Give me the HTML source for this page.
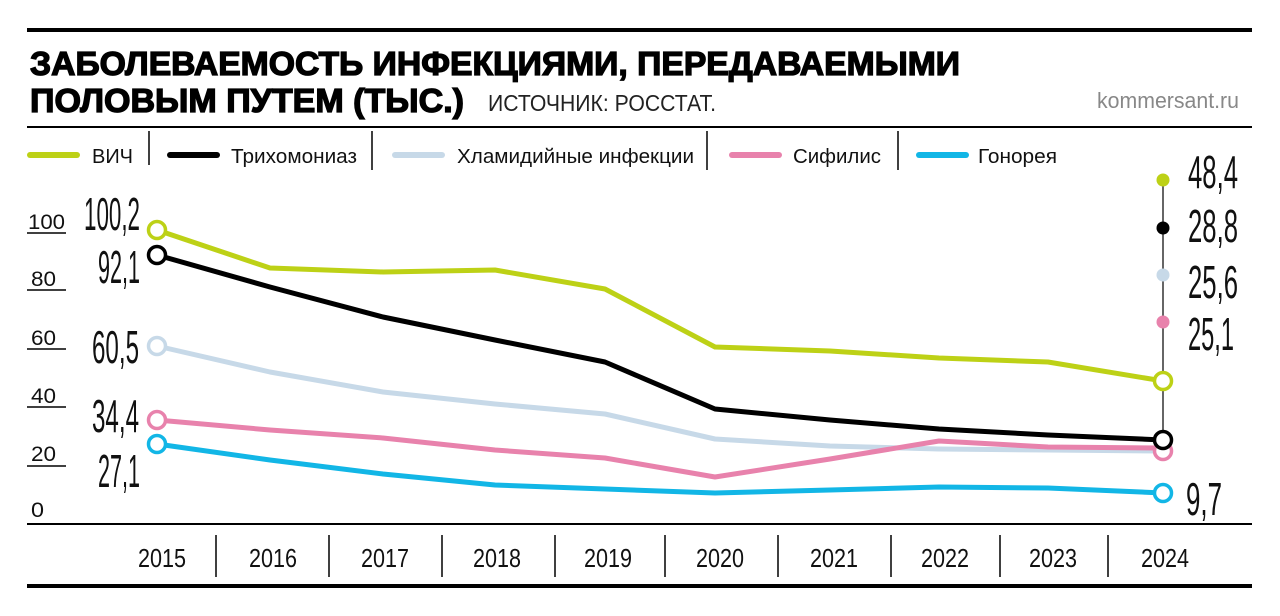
<!DOCTYPE html>
<html><head><meta charset="utf-8"><style>
html,body{margin:0;padding:0;background:#fff;}
svg{display:block;font-family:"Liberation Sans","DejaVu Sans",sans-serif;}
</style></head><body>
<svg width="1280" height="616" viewBox="0 0 1280 616" xmlns="http://www.w3.org/2000/svg">
<rect width="1280" height="616" fill="#fff"/>
<line x1="27" y1="30" x2="1252" y2="30" stroke="#000" stroke-width="4"/>
<text x="30" y="75" font-size="33" font-weight="bold" stroke="#000" stroke-width="1.3" textLength="930" lengthAdjust="spacingAndGlyphs">ЗАБОЛЕВАЕМОСТЬ ИНФЕКЦИЯМИ, ПЕРЕДАВАЕМЫМИ</text>
<text x="30" y="112" font-size="33" font-weight="bold" stroke="#000" stroke-width="1.3" textLength="434" lengthAdjust="spacingAndGlyphs">ПОЛОВЫМ ПУТЕМ (ТЫС.)</text>
<text x="488" y="111" font-size="23" textLength="228" lengthAdjust="spacingAndGlyphs" fill="#222">ИСТОЧНИК: РОССТАТ.</text>
<text x="1097" y="108" font-size="22" textLength="142" lengthAdjust="spacingAndGlyphs" fill="#888">kommersant.ru</text>
<line x1="27" y1="127" x2="1252" y2="127" stroke="#000" stroke-width="2"/>
<g stroke-width="6" stroke-linecap="round">
<line x1="30" y1="155" x2="77" y2="155" stroke="#bdd116"/>
<line x1="170" y1="155" x2="217" y2="155" stroke="#000"/>
<line x1="395" y1="155" x2="442" y2="155" stroke="#c7d9e8"/>
<line x1="732" y1="155" x2="779" y2="155" stroke="#e882ac"/>
<line x1="919" y1="155" x2="966" y2="155" stroke="#12b6e6"/>
</g>
<g stroke="#000" stroke-width="1.5">
<line x1="149" y1="131" x2="149" y2="165"/><line x1="372" y1="131" x2="372" y2="170"/>
<line x1="707" y1="131" x2="707" y2="170"/><line x1="898" y1="131" x2="898" y2="170"/>
</g>
<g font-size="20" fill="#111">
<text x="92" y="163" textLength="41" lengthAdjust="spacingAndGlyphs">ВИЧ</text>
<text x="231" y="163" textLength="126" lengthAdjust="spacingAndGlyphs">Трихомониаз</text>
<text x="457" y="163" textLength="237" lengthAdjust="spacingAndGlyphs">Хламидийные инфекции</text>
<text x="793" y="163" textLength="88" lengthAdjust="spacingAndGlyphs">Сифилис</text>
<text x="978" y="163" textLength="79" lengthAdjust="spacingAndGlyphs">Гонорея</text>
</g>
<g font-size="21" fill="#111">
<text x="28" y="229" textLength="37" lengthAdjust="spacingAndGlyphs">100</text>
<text x="31" y="286" textLength="25" lengthAdjust="spacingAndGlyphs">80</text>
<text x="31" y="345" textLength="25" lengthAdjust="spacingAndGlyphs">60</text>
<text x="31" y="403" textLength="25" lengthAdjust="spacingAndGlyphs">40</text>
<text x="31" y="461" textLength="25" lengthAdjust="spacingAndGlyphs">20</text>
<text x="31" y="517" textLength="13" lengthAdjust="spacingAndGlyphs">0</text>
</g>
<g stroke="#000" stroke-width="1.5">
<line x1="27" y1="233" x2="66" y2="233"/><line x1="27" y1="290" x2="66" y2="290"/>
<line x1="27" y1="349" x2="66" y2="349"/><line x1="27" y1="407" x2="66" y2="407"/>
<line x1="27" y1="466" x2="66" y2="466"/>
</g>
<g font-size="46" fill="#111">
<text x="84" y="230" textLength="56" lengthAdjust="spacingAndGlyphs">100,2</text>
<text x="98" y="283" textLength="42" lengthAdjust="spacingAndGlyphs">92,1</text>
<text x="92" y="363" textLength="47" lengthAdjust="spacingAndGlyphs">60,5</text>
<text x="92" y="432" textLength="47" lengthAdjust="spacingAndGlyphs">34,4</text>
<text x="98" y="487" textLength="42" lengthAdjust="spacingAndGlyphs">27,1</text>
</g>
<line x1="1163" y1="180" x2="1163" y2="440" stroke="#333" stroke-width="1.5"/>
<circle cx="1163" cy="180" r="6.5" fill="#bdd116"/>
<circle cx="1163" cy="228" r="6.5" fill="#000"/>
<circle cx="1163" cy="275" r="6.5" fill="#c7d9e8"/>
<circle cx="1163" cy="322" r="6.5" fill="#e882ac"/>
<g font-size="46" fill="#111">
<text x="1188" y="188" textLength="50" lengthAdjust="spacingAndGlyphs">48,4</text>
<text x="1188" y="242" textLength="50" lengthAdjust="spacingAndGlyphs">28,8</text>
<text x="1188" y="298" textLength="50" lengthAdjust="spacingAndGlyphs">25,6</text>
<text x="1188" y="350" textLength="46" lengthAdjust="spacingAndGlyphs">25,1</text>
<text x="1186" y="515" textLength="36" lengthAdjust="spacingAndGlyphs">9,7</text>
</g>
<g fill="none" stroke-width="5" stroke-linejoin="round">
<polyline stroke="#c7d9e8" points="157,346 270,372 383,392 495,404 605,414 715,439 830,446 939,449 1048,450 1163,451"/>
<polyline stroke="#e882ac" points="157,420 270,430 383,438 495,450 605,458 715,477 830,459 939,441 1048,447 1163,448"/>
<polyline stroke="#12b6e6" points="157,444 270,460 383,474 495,485 605,489 715,493 830,490 939,487 1048,488 1163,493"/>
<polyline stroke="#000" points="157,255 270,287 383,317 495,340 605,362 715,409 830,420 939,429 1048,435 1163,440"/>
<polyline stroke="#bdd116" points="157,230 270,268 383,272 495,270 605,289 715,347 830,351 939,358 1048,362 1163,381"/>
</g>
<g fill="#fff" stroke-width="3.5">
<circle cx="157" cy="346" r="8.5" stroke="#c7d9e8"/>
<circle cx="157" cy="420" r="8.5" stroke="#e882ac"/>
<circle cx="157" cy="444" r="8.5" stroke="#12b6e6"/>
<circle cx="157" cy="255" r="8.5" stroke="#000"/>
<circle cx="157" cy="230" r="8.5" stroke="#bdd116"/>
<circle cx="1163" cy="451" r="8.5" stroke="#e882ac"/>
<circle cx="1163" cy="493" r="8.5" stroke="#12b6e6"/>
<circle cx="1163" cy="440" r="8.5" stroke="#000"/>
<circle cx="1163" cy="381" r="8.5" stroke="#bdd116"/>
</g>
<line x1="27" y1="524" x2="1252" y2="524" stroke="#000" stroke-width="2"/>
<g stroke="#000" stroke-width="1.5">
<line x1="216" y1="535" x2="216" y2="577"/><line x1="329" y1="535" x2="329" y2="577"/>
<line x1="442" y1="535" x2="442" y2="577"/><line x1="555" y1="535" x2="555" y2="577"/>
<line x1="665" y1="535" x2="665" y2="577"/><line x1="778" y1="535" x2="778" y2="577"/>
<line x1="891" y1="535" x2="891" y2="577"/><line x1="1000" y1="535" x2="1000" y2="577"/>
<line x1="1108" y1="535" x2="1108" y2="577"/>
</g>
<g font-size="26" fill="#111" text-anchor="middle">
<text x="162" y="567" textLength="48" lengthAdjust="spacingAndGlyphs">2015</text>
<text x="273" y="567" textLength="48" lengthAdjust="spacingAndGlyphs">2016</text>
<text x="385" y="567" textLength="48" lengthAdjust="spacingAndGlyphs">2017</text>
<text x="497" y="567" textLength="48" lengthAdjust="spacingAndGlyphs">2018</text>
<text x="608" y="567" textLength="48" lengthAdjust="spacingAndGlyphs">2019</text>
<text x="720" y="567" textLength="48" lengthAdjust="spacingAndGlyphs">2020</text>
<text x="834" y="567" textLength="48" lengthAdjust="spacingAndGlyphs">2021</text>
<text x="945" y="567" textLength="48" lengthAdjust="spacingAndGlyphs">2022</text>
<text x="1053" y="567" textLength="48" lengthAdjust="spacingAndGlyphs">2023</text>
<text x="1165" y="567" textLength="48" lengthAdjust="spacingAndGlyphs">2024</text>
</g>
<line x1="27" y1="586" x2="1252" y2="586" stroke="#000" stroke-width="4"/>
</svg>
</body></html>
